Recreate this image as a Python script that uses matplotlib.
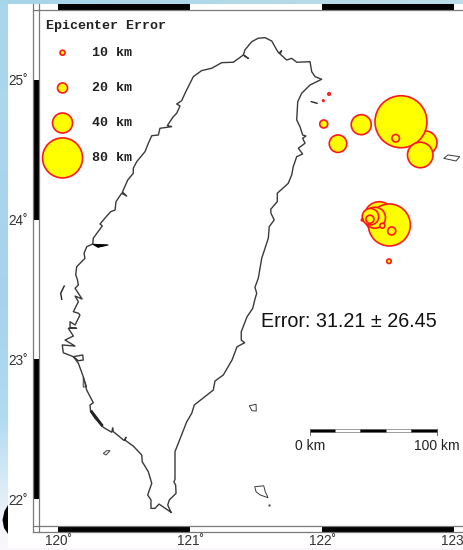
#!/usr/bin/env python

# epicenter error map around Taiwan

import numpy as np
from matplotlib import pyplot as plt
from matplotlib.patches import Rectangle, Polygon

plt.rcParams['font.family'] = ['Liberation Sans', 'DejaVu Sans']

W, H = 463, 550

# main island outline, clockwise from the southern tip
coast_lon = [120.854, 120.763, 120.733, 120.702, 120.702, 120.677, 120.708, 120.682, 120.636, 120.632,
             120.568, 120.505, 120.513, 120.498, 120.455, 120.417, 120.412, 120.405, 120.341, 120.278,
             120.245, 120.240, 120.265, 120.215, 120.189, 120.152, 120.114, 120.185, 120.189, 120.152,
             120.114, 120.038, 120.030, 120.127, 120.051, 120.114, 120.076, 120.139, 120.089, 120.089,
             120.127, 120.164, 120.152, 120.114, 120.152, 120.127, 120.180, 120.127, 120.152, 120.144,
             120.132, 120.139, 120.202, 120.195, 120.215, 120.261, 120.265, 120.333, 120.316, 120.367,
             120.397, 120.430, 120.437, 120.480, 120.518, 120.486, 120.526, 120.568, 120.568, 120.594,
             120.657, 120.682, 120.708, 120.758, 120.770, 120.821, 120.859, 120.826, 120.871, 120.897,
             120.922, 120.897, 120.935, 120.960, 121.023, 121.086, 121.162, 121.238, 121.326, 121.402,
             121.439, 121.402, 121.414, 121.465, 121.515, 121.566, 121.617, 121.655, 121.672, 121.692,
             121.680, 121.730, 121.768, 121.806, 121.907, 121.920, 121.945, 121.995, 121.907, 121.844,
             121.814, 121.806, 121.831, 121.851, 121.876, 121.851, 121.869, 121.818, 121.851, 121.806,
             121.780, 121.768, 121.742, 121.659, 121.659, 121.609, 121.611, 121.636, 121.598, 121.591,
             121.541, 121.515, 121.490, 121.503, 121.488, 121.473, 121.430, 121.386, 121.386, 121.412,
             121.354, 121.316, 121.250, 121.187, 121.174, 121.030, 121.011, 120.973, 120.884, 120.884,
             120.876, 120.889, 120.892, 120.841, 120.829, 120.854]
coast_lat = [21.905, 21.964, 21.933, 21.933, 21.993, 22.029, 22.112, 22.195, 22.267, 22.315,
             22.379, 22.422, 22.442, 22.419, 22.453, 22.482, 22.510, 22.478, 22.513, 22.578,
             22.625, 22.673, 22.689, 22.780, 22.876, 22.972, 23.019, 23.031, 22.995, 22.990,
             23.019, 23.047, 23.103, 23.095, 23.138, 23.167, 23.222, 23.222, 23.229, 23.269,
             23.246, 23.317, 23.330, 23.341, 23.413, 23.453, 23.432, 23.509, 23.532, 23.573,
             23.604, 23.663, 23.723, 23.759, 23.806, 23.826, 23.867, 23.955, 23.969, 24.026,
             24.057, 24.069, 24.129, 24.189, 24.169, 24.198, 24.284, 24.332, 24.368, 24.415,
             24.487, 24.547, 24.601, 24.606, 24.654, 24.661, 24.666, 24.674, 24.737, 24.762,
             24.814, 24.828, 24.852, 24.905, 25.024, 25.067, 25.084, 25.124, 25.127, 25.179,
             25.155, 25.179, 25.215, 25.274, 25.299, 25.303, 25.279, 25.215, 25.191, 25.210,
             25.186, 25.143, 25.155, 25.127, 25.131, 25.059, 25.024, 25.005, 24.964, 24.905,
             24.845, 24.714, 24.666, 24.606, 24.599, 24.583, 24.547, 24.511, 24.470, 24.451,
             24.379, 24.320, 24.260, 24.189, 24.129, 24.074, 24.046, 23.998, 23.950, 23.867,
             23.723, 23.580, 23.516, 23.473, 23.425, 23.365, 23.305, 23.198, 23.138, 23.119,
             23.090, 22.995, 22.888, 22.845, 22.780, 22.673, 22.614, 22.553, 22.339, 22.141,
             22.122, 22.100, 22.041, 21.993, 21.957, 21.905]

# small islands, outlined only
islands_lon = [[120.189, 120.215, 120.189],
               [120.341, 120.367, 120.392, 120.361],
               [121.447, 121.498, 121.500, 121.467],
               [121.488, 121.556, 121.568, 121.589, 121.530, 121.498],
               [122.920, 122.952, 123.041, 123.013]]
islands_lat = [[22.876, 22.804, 22.802],
               [22.327, 22.346, 22.346, 22.315],
               [22.668, 22.678, 22.630, 22.632],
               [22.088, 22.095, 22.052, 22.009, 22.029, 22.052],
               [24.439, 24.463, 24.451, 24.420]]

# slivers that come out solid black
slivers_lon = [[120.261, 120.379, 120.301],
               [120.045, 120.018, 120.026],
               [120.253, 120.329],
               [121.917, 121.960]]
slivers_lat = [[23.824, 23.819, 23.802],
               [23.525, 23.473, 23.430],
               [22.625, 22.530],
               [24.845, 24.833]]
sliver_width = [0.7, 1.0, 2.0, 1.0]

# events, painted in this order
event_lon = [122.780, 122.596, 122.742, 122.556, 122.295, 122.119, 122.011, 122.051, 122.008,
             122.432, 122.508, 122.399, 122.365, 122.455, 122.526, 122.361, 122.303, 122.505]
event_lat = [24.551, 24.701, 24.463, 24.583, 24.680, 24.544, 24.685, 24.900, 24.852,
             24.021, 23.962, 24.014, 24.021, 23.957, 23.919, 24.003, 23.998, 23.702]
event_err = [47, 104, 51, 15, 40, 35, 16, 5, 3, 60, 84, 42, 33, 10, 16, 16, 4, 9]

legend_err = [10, 20, 40, 80]
legend_lat = [25.195, 24.943, 24.692, 24.442]
legend_lon = 120.032
legend_text_lon = 120.255

lon_ticks = [120, 121, 122, 123]
lat_ticks = [22, 23, 24, 25]
lon_labels = ['120˚', '121˚', '122˚', '123˚']
lat_labels = ['22˚', '23˚', '24˚', '25˚']

scale_km = [0, 20, 40, 60, 80, 100]
scale_lon = [121.905, 122.099, 122.289, 122.485, 122.674, 122.870]


def marker_size(err):
    # circle diameter on the page is half a pixel per km
    d = np.asarray(err) * 0.5 * 0.72
    return d ** 2


fig = plt.figure(figsize=(W / 100, H / 100), dpi=100)

# slide background behind the figure
bg = fig.add_axes([0, 0, 1, 1])
ys = np.array([0, 120, 300, 420, 480, 520, 550])
rs = np.array([168, 172, 165, 178, 215, 240, 250])
gs = np.array([214, 214, 211, 219, 234, 243, 248])
bs = np.array([234, 236, 238, 241, 246, 249, 252])
rows = np.arange(H)
strip = np.stack([np.interp(rows, ys, rs), np.interp(rows, ys, gs), np.interp(rows, ys, bs)], axis=1) / 255
img = np.repeat(strip[:, None, :], W, axis=1)
img[:4, :, 0] = np.interp(np.arange(W), [0, W], [165, 190]) / 255
img[:4, :, 1] = np.interp(np.arange(W), [0, W], [213, 222]) / 255
img[:4, :, 2] = np.interp(np.arange(W), [0, W], [232, 232]) / 255
bg.imshow(img, extent=(0, W, H, 0), aspect='auto')
bg.add_patch(Rectangle((8, 4), W - 8, 544, fc='white', ec='none'))
bg.add_patch(Polygon([(8, 505), (4.5, 511), (2.5, 520), (4, 528), (8, 534)], fc='black', ec='none'))
bg.set_xlim(0, W)
bg.set_ylim(H, 0)
bg.axis('off')

ax = fig.add_axes([39.3 / W, (H - 525.7) / H, (W - 39.3) / W, 515.7 / H])
ax.set_xlim(119.856, 123.066)
ax.set_ylim(21.809, 25.501)
for s in ax.spines.values():
    s.set_visible(False)

line_col = '#3a3a3a'
ax.plot(coast_lon, coast_lat, color=line_col, lw=1.0, solid_joinstyle='round')
for xs, ys_ in zip(islands_lon, islands_lat):
    ax.fill(xs, ys_, fc='white', ec=line_col, lw=0.7)
for xs, ys_, lw in zip(slivers_lon, slivers_lat, sliver_width):
    if len(xs) == 3 and lw < 1:
        ax.fill(xs, ys_, fc='black', ec='black', lw=lw)
    else:
        ax.plot(xs, ys_, color='#222222', lw=lw)
ax.plot([121.598], [21.957], marker='.', ms=1.2, color=line_col)

ax.scatter(event_lon, event_lat, s=marker_size(event_err), fc='#ffff00', ec='#ff1818', lw=1.2, zorder=3)
ax.scatter([legend_lon] * 4, legend_lat, s=marker_size(legend_err), fc='#ffff00', ec='#ff1818', lw=1.2, zorder=3)

ax.text(119.903, 25.390, 'Epicenter Error', family='Liberation Mono', weight='bold', size=9.6,
        color='#222222', va='center', ha='left')
for err, lat in zip(legend_err, legend_lat):
    ax.text(legend_text_lon, lat, '%d km' % err, family='Liberation Mono', weight='bold', size=9.6,
            color='#222222', va='center', ha='left')

ax.text(121.536, 23.270, 'Error: 31.21 ± 26.45', size=14.2, color='#111111', va='center', ha='left')

# scale bar
for i in range(5):
    col = 'black' if i % 2 == 0 else 'white'
    ax.fill_between(scale_lon[i:i + 2], 22.477, 22.501, fc=col, ec='#555555', lw=0.4)
ax.plot([scale_lon[0]] * 2, [22.46, 22.50], color='#555555', lw=0.6)
ax.plot([scale_lon[-1]] * 2, [22.46, 22.50], color='#555555', lw=0.6)
ax.text(scale_lon[0], 22.378, '%d km' % scale_km[0], size=10, color='#222222', ha='center', va='center')
ax.text(scale_lon[-1], 22.378, '%d km' % scale_km[-1], size=10, color='#222222', ha='center', va='center')

# plain fancy frame, black and white bands between the degree ticks
band_x = 6.3 / (W - 39.3)
band_y = 6 / 515.7
xt = ax.get_xaxis_transform()
yt = ax.get_yaxis_transform()
lon_edges = [ax.get_xlim()[0]] + lon_ticks + [ax.get_xlim()[1]]
lat_edges = [ax.get_ylim()[0]] + lat_ticks + [ax.get_ylim()[1]]
for i in range(len(lon_edges) - 1):
    col = 'black' if lon_edges[i] in (120, 122) else 'white'
    w = lon_edges[i + 1] - lon_edges[i]
    ax.add_patch(Rectangle((lon_edges[i], 1), w, band_y, transform=xt, fc=col, ec='none', clip_on=False))
    ax.add_patch(Rectangle((lon_edges[i], -band_y), w, band_y, transform=xt, fc=col, ec='none', clip_on=False))
for i in range(len(lat_edges) - 1):
    col = 'black' if lat_edges[i] in (22, 24) else 'white'
    h = lat_edges[i + 1] - lat_edges[i]
    ax.add_patch(Rectangle((-band_x, lat_edges[i]), band_x, h, transform=yt, fc=col, ec='none', clip_on=False))

frame = dict(transform=ax.transAxes, color='#7a7a7a', lw=0.9, clip_on=False)
ax.plot([-band_x, -band_x], [-band_y, 1 + band_y], **frame)
ax.plot([0, 0], [-band_y, 1 + band_y], **frame)
ax.plot([-band_x, 1], [0, 0], **frame)
ax.plot([-band_x, 1], [-band_y, -band_y], **frame)
ax.plot([-band_x, 1], [1, 1], **frame)

ax.set_xticks(lon_ticks)
ax.set_xticklabels(lon_labels, fontsize=9.8, color='#333333')
ax.set_yticks(lat_ticks)
ax.set_yticklabels(lat_labels, fontsize=9.8, color='#333333')
ax.tick_params(axis='x', length=0, pad=6)
ax.tick_params(axis='y', length=0, pad=8)

fig.savefig('out.png', dpi=100)
